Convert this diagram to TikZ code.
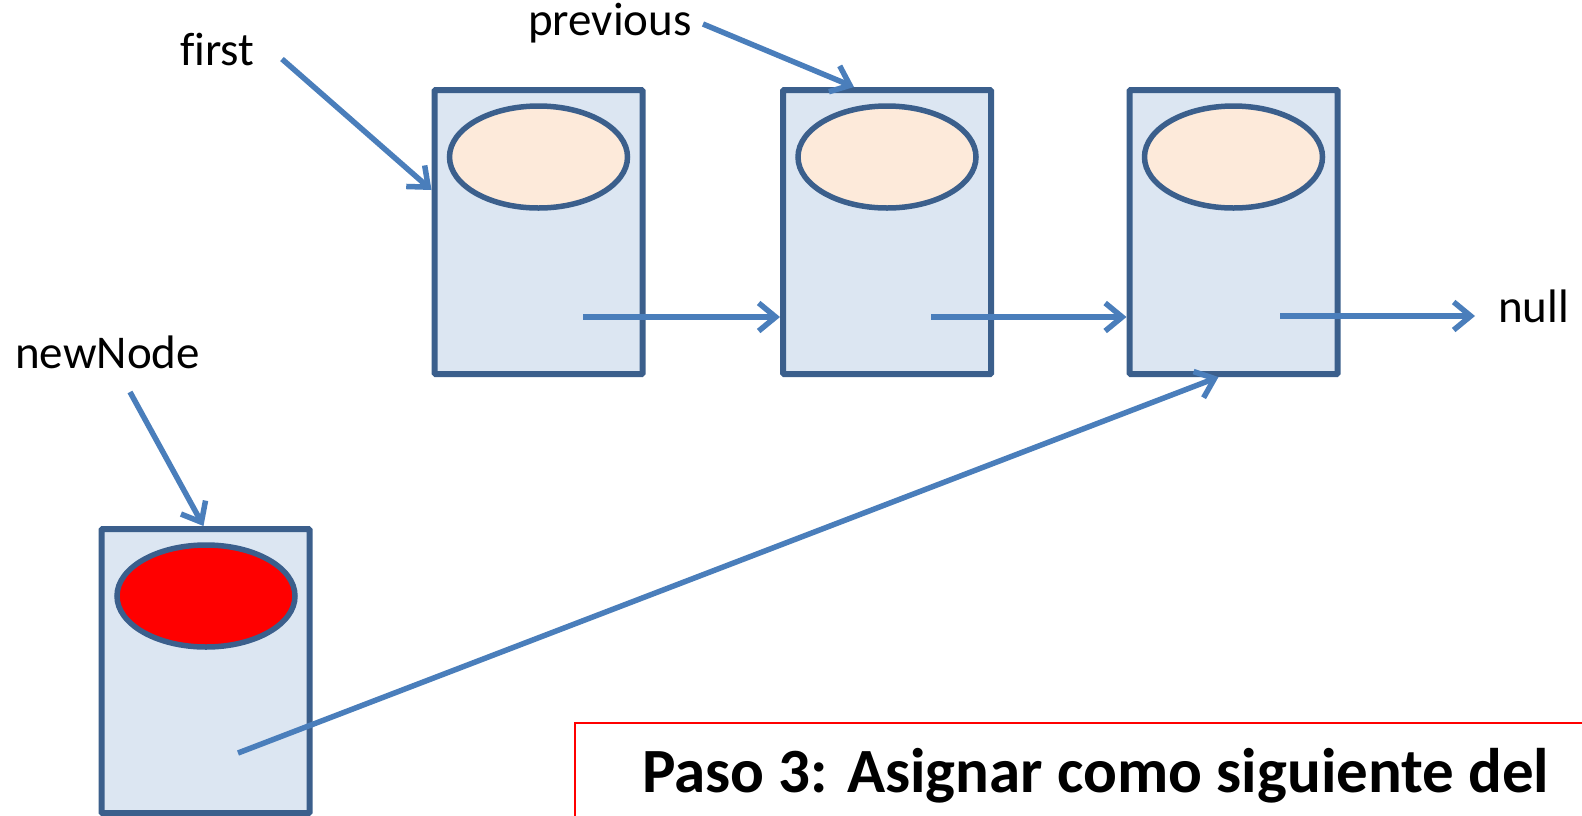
\documentclass[tikz,border=0pt]{standalone}
\usepackage{fontspec}
\setmainfont{Carlito}[Ligatures=NoCommon]
\usetikzlibrary{arrows.meta,shapes.geometric}

\definecolor{boxfill}{HTML}{DCE6F2}
\definecolor{boxline}{HTML}{3B5F8C}
\definecolor{datafill}{HTML}{FDEADA}
\definecolor{ptrline}{HTML}{4A7EBB}

\tikzset{
  listbox/.style={draw=boxline, fill=boxfill, line width=6pt, rounded corners=1pt,
    minimum width=208pt, minimum height=284pt, inner sep=0pt},
  datum/.style={ellipse, draw=boxline, fill=datafill, line width=5.5pt,
    minimum width=178pt, minimum height=102pt, inner sep=0pt},
  ptr/.style={draw=ptrline, line width=5.5pt, -{Straight Barb[length=17pt,width=28pt]}},
  lbl/.style={font=\fontsize{47}{56}\selectfont, inner sep=0pt, anchor=base west},
}

\begin{document}
\begin{tikzpicture}[x=1pt,y=-1pt]

    \useasboundingbox (0,0) rectangle (1582,815);
    \clip (0,0) rectangle (1582,815);

    %list boxes:
    \node[listbox] (n1) at (538.5,232) {};
    \node[listbox] (n2) at (887,232) {};
    \node[listbox] (n3) at (1233.5,232) {};
    \node[listbox] (nn) at (205.5,671) {};

    %data:
    \node[datum] (d1) at (538.5,157) {};
    \node[datum] (d2) at (887,157) {};
    \node[datum] (d3) at (1233.5,157) {};
    \node[datum, fill=red] (dn) at (206,596) {};

    %labels:
    \node[lbl] (first) at (180,65) {first};
    \node[lbl] (previous) at (528,35) {previous};
    \node[lbl] (null) at (1498,322) {null};
    \node[lbl] (newnode) at (15,368) {newNode};

    %pointer starts:
    \coordinate (p1) at (583,317);
    \coordinate (p2) at (931,317);
    \coordinate (p3) at (1280,316);
    \coordinate (p4) at (238,753);
    \coordinate (nullend) at (1475,316);
    \coordinate (f) at (282,59);
    \coordinate (pr) at (703,24);
    \coordinate (nw) at (130,392);

    %draw pointers:
    \draw[ptr] (p1) -- (p1 -| n2.west);
    \draw[ptr] (p2) -- (p2 -| n3.west);
    \draw[ptr] (p3) -- (nullend);
    \draw[ptr] (p4) -- ([xshift=-15pt]n3.south);
    \draw[ptr] (f) -- ([yshift=42pt]n1.west);
    \draw[ptr] (pr) -- ([xshift=-33pt]n2.north);
    \draw[ptr] (nw) -- ([xshift=-2pt]nn.north);

    %step note:
    \draw[red, line width=2.5pt] (575,723) rectangle (1620,860);
    \node[anchor=base west, inner sep=0pt, font=\bfseries\fontsize{63}{76}\selectfont] (step) at (642,792)
        {Paso 3: Asignar como siguiente del};

\end{tikzpicture}
\end{document}
